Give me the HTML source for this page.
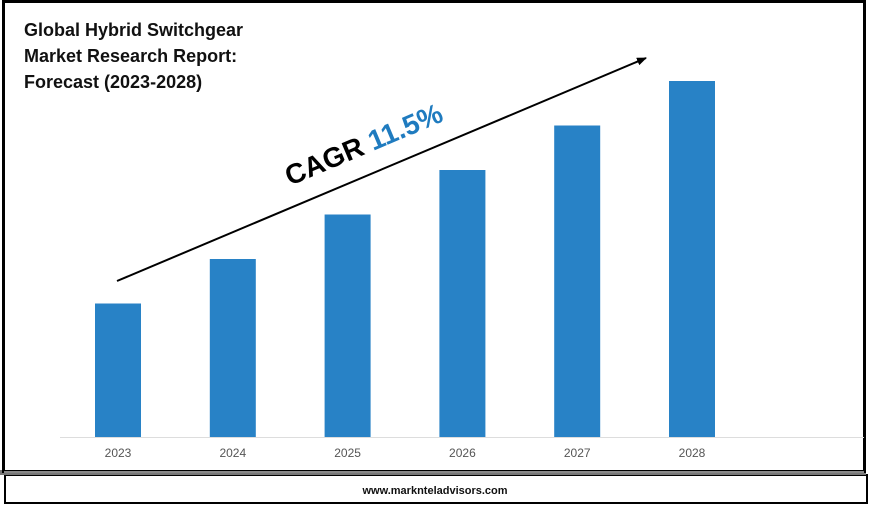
<!DOCTYPE html>
<html><head><meta charset="utf-8"><style>
body{margin:0;background:#fff;width:870px;height:506px;overflow:hidden;font-family:"Liberation Sans",sans-serif}
</style></head><body>
<svg width="870" height="506" viewBox="0 0 870 506">
<defs><marker id="ah" markerUnits="userSpaceOnUse" markerWidth="10" markerHeight="8" refX="9" refY="4" orient="auto"><path d="M0,0 L10,4 L0,8 z" fill="#000"/></marker></defs>
<rect x="5" y="475" width="862" height="28" fill="#fff" stroke="#000" stroke-width="2"/>
<rect x="0" y="470" width="866" height="5" fill="#777"/>
<rect x="3.5" y="1.5" width="861" height="470" fill="#fff" stroke="#000" stroke-width="3"/>
<line x1="4" y1="472" x2="864" y2="472" stroke="#888" stroke-width="2"/>
<text x="24" y="36" font-size="18" font-weight="bold" fill="#111">Global Hybrid Switchgear</text>
<text x="24" y="62" font-size="18" font-weight="bold" fill="#111">Market Research Report:</text>
<text x="24" y="88" font-size="18" font-weight="bold" fill="#111">Forecast (2023-2028)</text>
<line x1="60" y1="437.5" x2="864" y2="437.5" stroke="#ddd" stroke-width="1"/>
<g id="bars"></g>
<line x1="117" y1="281" x2="646" y2="58" stroke="#000" stroke-width="2" marker-end="url(#ah)"/>
<text transform="translate(290,186) rotate(-22.9)" font-size="28" font-weight="bold"><tspan fill="#000">CAGR </tspan><tspan fill="#1f7bbf">11.5%</tspan></text>
<text x="435" y="494" font-size="11" font-weight="bold" text-anchor="middle" fill="#111">www.marknteladvisors.com</text>
</svg>
<script>
const categories=["2023","2024","2025","2026","2027","2028"];
const values=[3.0,4.0,5.0,6.0,7.0,8.0];
const g=document.getElementById('bars');
const NS="http://www.w3.org/2000/svg";
function xC(i){return 118+i*114.8;}
function yV(v){return 437-v*44.5;}
categories.forEach((c,i)=>{
  const r=document.createElementNS(NS,'rect');
  r.setAttribute('x',xC(i)-23);r.setAttribute('width',46);
  r.setAttribute('y',yV(values[i]));r.setAttribute('height',437-yV(values[i]));
  r.setAttribute('fill','#2882c6');
  
  
  g.appendChild(r);
  const t=document.createElementNS(NS,'text');
  t.setAttribute('x',xC(i));t.setAttribute('y',457);
  t.setAttribute('text-anchor','middle');t.setAttribute('font-size','12');t.setAttribute('fill','#555');
  t.textContent=c;
  
  
  g.appendChild(t);
});
</script>
</body></html>
